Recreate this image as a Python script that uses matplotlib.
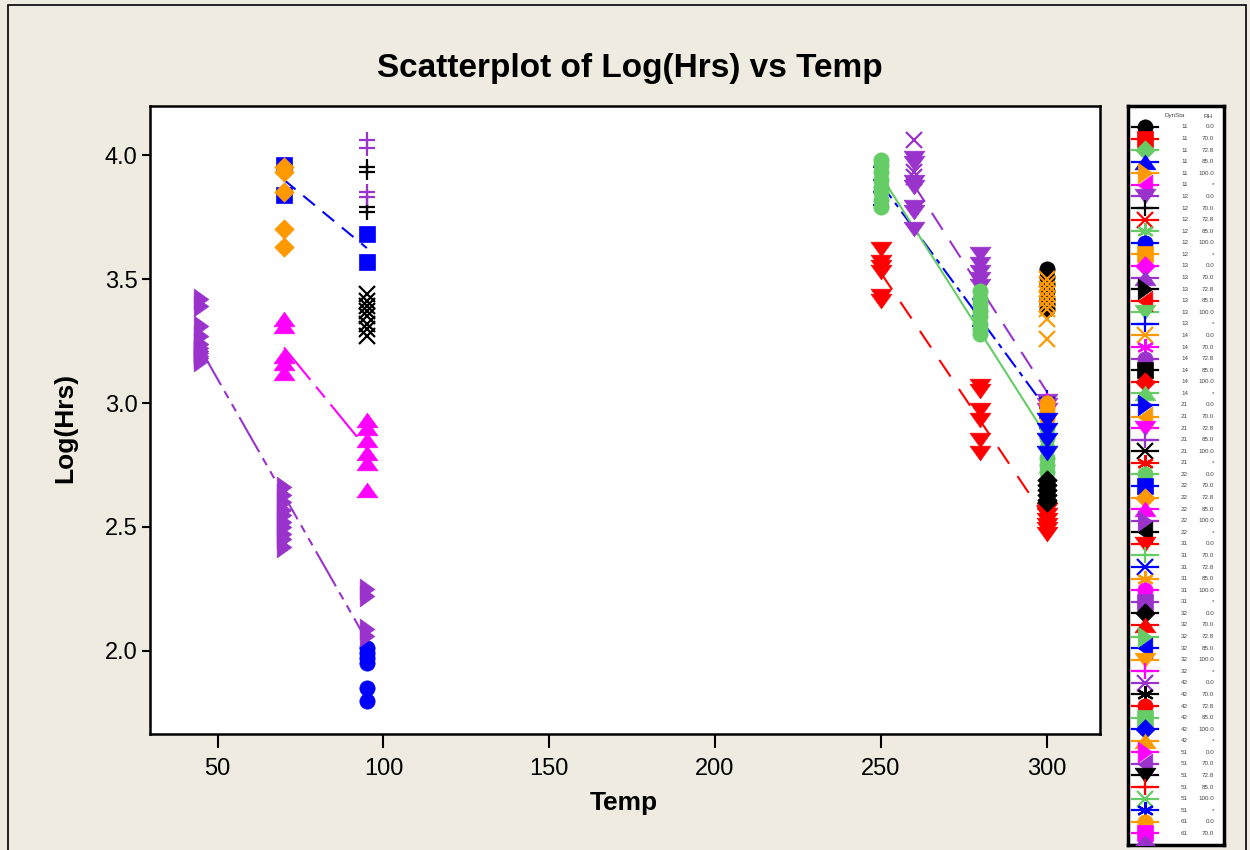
import numpy as np
import matplotlib
matplotlib.use("Agg")
import matplotlib.pyplot as plt
from matplotlib.patches import Rectangle

plt.rcParams["font.family"] = ["Liberation Sans", "DejaVu Sans"]
plt.rcParams["lines.scale_dashes"] = False

# legend keys (DynSta x RH, Minitab order)
STATIONS = ["11", "12", "13", "14", "21", "22", "31", "32", "42", "51", "61", "62"]
RH_LEVELS = ["0.0", "70.0", "72.8", "85.0", "100.0", "*"]

# Log(Hrs), {Temp: [values]} per DynSta / RH group
g11_00 = {300: [3.54, 3.51, 3.48, 3.45, 3.42, 3.40, 3.38]}
g12_00 = {260: [3.99, 3.97, 3.89, 3.87, 3.79, 3.77, 3.70],
          280: [3.60, 3.56, 3.53, 3.50, 3.47],
          300: [3.01, 2.99, 2.97]}
g12_70 = {95: [3.95, 3.93, 3.79, 3.77]}
g12_100 = {95: [2.01, 1.99, 1.97, 1.95, 1.85, 1.80]}
g13_na = {250: [3.95, 3.90, 3.85, 3.80],
          280: [3.42, 3.38, 3.35, 3.31],
          300: [3.02, 2.98, 2.94, 2.90]}
g14_00 = {300: [3.50, 3.48, 3.46, 3.44, 3.42, 3.40, 3.38, 3.34, 3.26]}
g21_85 = {95: [4.06, 4.03, 3.85, 3.83]}
g21_100 = {95: [3.44, 3.41, 3.39, 3.37, 3.35, 3.32, 3.30, 3.27]}
g22_00 = {250: [3.98, 3.96, 3.93, 3.90, 3.87, 3.85, 3.82, 3.79],
          280: [3.45, 3.42, 3.40, 3.37, 3.35, 3.32, 3.30, 3.28],
          300: [2.90, 2.86, 2.82, 2.78, 2.75, 2.72]}
g22_70 = {70: [3.96, 3.84], 95: [3.68, 3.57]}
g22_728 = {70: [3.95, 3.93, 3.85, 3.70, 3.63]}
g22_85 = {70: [3.34, 3.31, 3.19, 3.16, 3.12],
          95: [2.93, 2.90, 2.85, 2.80, 2.76, 2.65]}
g22_100 = {45: [3.42, 3.39, 3.31, 3.27, 3.24, 3.22, 3.21, 3.20, 3.19, 3.18, 3.17],
           70: [2.66, 2.63, 2.60, 2.57, 2.55, 2.52, 2.50, 2.47, 2.45, 2.42],
           95: [2.25, 2.22, 2.09, 2.06]}
g31_00 = {250: [3.62, 3.57, 3.55, 3.53, 3.43, 3.41],
          280: [3.07, 3.05, 2.97, 2.93, 2.85, 2.80],
          300: [2.57, 2.55, 2.53, 2.51, 2.49, 2.47]}
g32_00 = {300: [2.69, 2.67, 2.65, 2.63, 2.61, 2.60]}
g32_na = {300: [3.01, 2.99]}
g42_00 = {260: [4.06, 3.93, 3.91]}
g61_00 = {300: [3.00, 2.98, 2.96, 2.94]}
g62_00 = {300: [2.93, 2.89, 2.85, 2.80]}

GROUPS = [
    ("11", "0.0", g11_00), ("12", "0.0", g12_00), ("12", "70.0", g12_70),
    ("12", "100.0", g12_100), ("13", "*", g13_na), ("14", "0.0", g14_00),
    ("21", "85.0", g21_85), ("21", "100.0", g21_100), ("22", "0.0", g22_00),
    ("22", "70.0", g22_70), ("22", "72.8", g22_728), ("22", "85.0", g22_85),
    ("22", "100.0", g22_100), ("31", "0.0", g31_00), ("32", "0.0", g32_00),
    ("32", "*", g32_na), ("42", "0.0", g42_00), ("61", "0.0", g61_00),
    ("62", "0.0", g62_00),
]

COLORS = ["#000000", "#FF0000", "#66CC66", "#0000FF", "#FF9900", "#FF00FF", "#9933CC"]
T = 0.7
MARKERS = [
    ("o", 11),
    ("s", 11),
    ([(0, 1), (1, 0), (0, -1), (-1, 0), (0, 1)], 14),
    ([(-1, -T), (1, -T), (0, T), (-1, -T)], 15),
    ([(-T, -1), (-T, 1), (T, 0), (-T, -1)], 15),
    ([(T, -1), (T, 1), (-T, 0), (T, -1)], 15),
    ([(-1, T), (1, T), (0, -T), (-1, T)], 15),
    ("+", 12),
    ("x", 11),
    ((6, 2, 0), 12),
]
LINE_MARKERS = (7, 8, 9)

# fit line styles (dash lengths in points)
LINESTYLES = {
    6: (0, (14.4, 9.4)),
    17: (0, (13, 4.3, 3.6, 4.3)),
    30: "-",
    31: (0, (10.8, 7.2)),
    33: (0, (30, 6.5, 10, 6.5)),
    34: (0, (29, 5, 5.8, 5, 5.8, 5)),
    36: (0, (14.4, 10.8)),
}


def style(idx):
    marker, ms = MARKERS[idx % 10]
    color = COLORS[idx % 7]
    kw = dict(marker=marker, ms=ms, color=color, linestyle="none")
    if idx % 10 in LINE_MARKERS:
        kw["mew"] = 1.6
    else:
        kw["mec"] = color
        kw["mew"] = 0.5
    return kw


W, H = 1250, 850
fig = plt.figure(figsize=(12.5, 8.5), dpi=100)
fig.patch.set_facecolor("#EFEBE0")
fig.add_artist(Rectangle((8 / W, -0.01), (1246 - 8) / W, 1.01 - 5 / H,
                         transform=fig.transFigure, fill=False, lw=1.2, ec="black"))

ax = fig.add_axes([150 / W, 1 - 734 / H, 950 / W, 628 / H])
ax.set_facecolor("white")

for ds, rh, grp in GROUPS:
    idx = STATIONS.index(ds) * 6 + RH_LEVELS.index(rh)
    x = np.concatenate([np.full(len(v), t, dtype=float) for t, v in grp.items()])
    y = np.concatenate([np.asarray(v, dtype=float) for v in grp.values()])
    z = 3 + idx * 0.01
    if len(grp) > 1:
        b, a = np.polyfit(x, y, 1)
        xs = np.array([x.min(), x.max()])
        ax.plot(xs, a + b * xs, color=COLORS[idx % 7], lw=1.5,
                linestyle=LINESTYLES.get(idx, "--"), zorder=2)
    ax.plot(x, y, zorder=z, **style(idx))

ax.set_xlim(29.6, 316.1)
ax.set_ylim(1.665, 4.198)
ax.set_xticks([50, 100, 150, 200, 250, 300])
ax.set_yticks([2.0, 2.5, 3.0, 3.5, 4.0])
ax.set_yticklabels(["2.0", "2.5", "3.0", "3.5", "4.0"])
ax.tick_params(axis="x", direction="out", length=10, width=1.5, labelsize=17, pad=7)
ax.tick_params(axis="y", direction="out", length=6, width=1.5, labelsize=17, pad=3)
for sp in ax.spines.values():
    sp.set_linewidth(1.8)

fig.text(630 / W, 1 - 68 / H, "Scatterplot of Log(Hrs) vs Temp",
         ha="center", va="center", fontsize=24, fontweight="bold")
fig.text(624 / W, 1 - 803 / H, "Temp", ha="center", va="center",
         fontsize=19, fontweight="bold")
fig.text(65 / W, 1 - 428 / H, "Log(Hrs)", ha="center", va="center",
         fontsize=19, fontweight="bold", rotation=90)

# legend panel, pixel coordinates inside the box
lax = fig.add_axes([1128 / W, 1 - 845 / H, 96 / W, 739 / H])
lax.set_xlim(0, 96)
lax.set_ylim(739, 0)
lax.set_xticks([])
lax.set_yticks([])
lax.set_facecolor("white")
for sp in lax.spines.values():
    sp.set_linewidth(2.5)

lax.text(47, 10, "DynSta", ha="center", va="center", fontsize=4.5, color="#444444")
lax.text(80, 10, "RH", ha="center", va="center", fontsize=4.5, color="#444444")
row = 0
for ds in STATIONS:
    for rh in RH_LEVELS:
        yy = 21 + row * 11.58
        if yy > 760:
            break
        c = COLORS[row % 7]
        lax.plot([4, 30], [yy, yy], color=c, lw=1.6, zorder=2)
        lax.plot([17], [yy], zorder=3 + row * 0.01, **style(row))
        if yy < 730:
            lax.text(60, yy, ds, ha="right", va="center", fontsize=4.5, color="#444444")
            lax.text(86, yy, rh, ha="right", va="center", fontsize=4.5, color="#444444")
        row += 1

fig.savefig("out.png", dpi=100, facecolor=fig.get_facecolor())
